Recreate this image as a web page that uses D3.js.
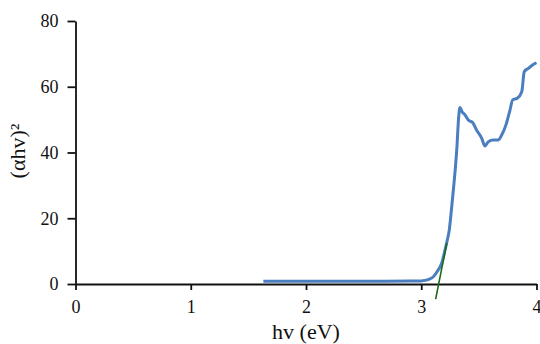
<!DOCTYPE html>
<html>
<head>
<meta charset="utf-8">
<script src="https://cdn.jsdelivr.net/npm/d3@7"></script>
<style>
  body { margin: 0; background: #fff; }
  svg text { font-family: "Liberation Serif", "Times New Roman", serif; fill: #111; }
</style>
</head>
<body>
<figure id="plot" style="margin:0"></figure>
<script>
// photon energy (eV) and (alpha h v)^2
const energy = [1.63, 2.0, 2.5, 2.9, 3.0, 3.033, 3.07, 3.105, 3.148, 3.177, 3.206, 3.226, 3.243, 3.256,
  3.284, 3.308, 3.325, 3.336, 3.354, 3.38, 3.408, 3.446, 3.481, 3.525, 3.553, 3.582, 3.625,
  3.669, 3.698, 3.735, 3.77, 3.793, 3.833, 3.872, 3.894, 3.929, 3.978, 4.0];
const absorption = [0.8, 0.8, 0.85, 0.9, 0.95, 1.1, 1.5, 2.2, 4.3, 6.3, 10.3, 13.4, 16.4, 20.5,
  30.6, 40.8, 50.9, 53.7, 52.4, 51.4, 49.9, 49.1, 46.8, 44.3, 42.0, 43.3, 43.8,
  43.8, 45.3, 48.4, 52.9, 56.0, 56.5, 58.5, 64.6, 65.6, 66.9, 67.3];

// linear fit to the absorption edge
const tangentX = [3.125, 3.222];
const tangentY = [-4.6, 12.5];

const xTicks = [0, 1, 2, 3, 4];
const yTicks = [0, 20, 40, 60, 80];

const width = 540;
const height = 344;
const margin = { top: 21, right: 3.5, bottom: 60, left: 75.5 };
const innerW = width - margin.left - margin.right;
const innerH = height - margin.top - margin.bottom;

const svg = d3.select('#plot')
  .append('svg')
  .attr('width', width)
  .attr('height', height);

const g = svg.append('g')
  .attr('transform', 'translate(' + margin.left + ',' + margin.top + ')');

const x = d3.scaleLinear().domain([0, 4]).range([0, innerW]);
const y = d3.scaleLinear().domain([0, 80]).range([innerH, 0]);

const xAxis = g.append('g')
  .attr('transform', 'translate(0,' + innerH + ')')
  .call(d3.axisBottom(x).tickValues(xTicks).tickFormat(d3.format('d'))
    .tickSize(6).tickSizeOuter(0).tickPadding(10));

const yAxis = g.append('g')
  .call(d3.axisLeft(y).tickValues(yTicks).tickFormat(d3.format('d'))
    .tickSize(8).tickSizeOuter(0).tickPadding(9));

[xAxis, yAxis].forEach(a => {
  a.selectAll('path, line').attr('stroke', '#111').attr('stroke-width', 1.8);
  a.selectAll('text').style('font-size', '18px');
});

const line = d3.line()
  .x((d, i) => x(energy[i]))
  .y(d => y(d))
  .curve(d3.curveMonotoneX);

g.append('path')
  .datum(absorption)
  .attr('fill', 'none')
  .attr('stroke', '#4a7ebf')
  .attr('stroke-width', 3)
  .attr('stroke-linejoin', 'round')
  .attr('d', line);

g.append('line')
  .attr('x1', x(tangentX[0]))
  .attr('y1', y(tangentY[0]))
  .attr('x2', x(tangentX[1]))
  .attr('y2', y(tangentY[1]))
  .attr('stroke', '#1a6a1a')
  .attr('stroke-width', 1.6);

svg.append('text')
  .attr('x', margin.left + innerW / 2)
  .attr('y', 339)
  .attr('text-anchor', 'middle')
  .style('font-size', '22px')
  .text('hv (eV)');

svg.append('text')
  .attr('transform', 'translate(25,151)rotate(-90)')
  .attr('text-anchor', 'middle')
  .style('font-size', '22px')
  .text('(αhv)²');
</script>
</body>
</html>
